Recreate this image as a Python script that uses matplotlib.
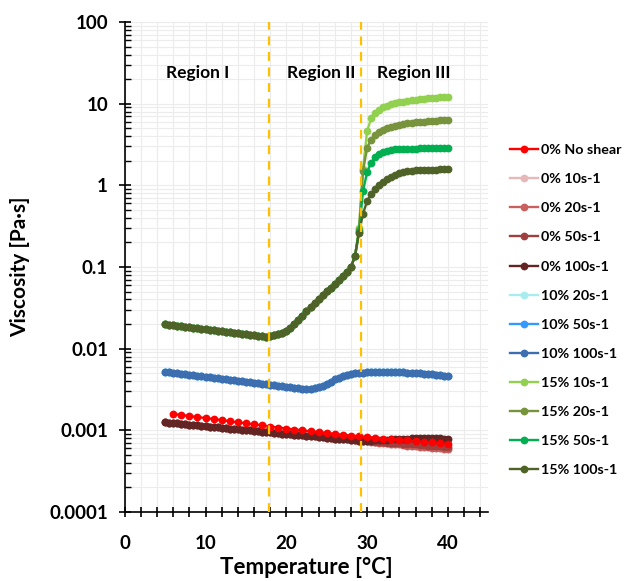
import matplotlib
matplotlib.use("Agg")
import matplotlib.pyplot as plt
from matplotlib.ticker import FixedLocator, LogLocator, NullFormatter

plt.rcParams['font.family'] = ['Lato', 'DejaVu Sans']
plt.rcParams['font.weight'] = 'bold'

# temperature grids
temp_half = [5.0, 5.5, 6.0, 6.5, 7.0, 7.5, 8.0, 8.5, 9.0, 9.5, 10.0, 10.5, 11.0, 11.5,
             12.0, 12.5, 13.0, 13.5, 14.0, 14.5, 15.0, 15.5, 16.0, 16.5, 17.0, 17.5,
             18.0, 18.5, 19.0, 19.5, 20.0, 20.5, 21.0, 21.5, 22.0, 22.5, 23.0, 23.5,
             24.0, 24.5, 25.0, 25.5, 26.0, 26.5, 27.0, 27.5, 28.0, 28.5, 29.0, 29.5,
             30.0, 30.5, 31.0, 31.5, 32.0, 32.5, 33.0, 33.5, 34.0, 34.5, 35.0, 35.5,
             36.0, 36.5, 37.0, 37.5, 38.0, 38.5, 39.0, 39.5, 40.0]
temp_whole = [6, 7, 8, 9, 10, 11, 12, 13, 14, 15, 16, 17, 18, 19, 20, 21, 22, 23,
              24, 25, 26, 27, 28, 29, 30, 31, 32, 33, 34, 35, 36, 37, 38, 39, 40]

# 0% no shear (1 degC steps)
visc_0_noshear = [0.00158, 0.00154, 0.00149, 0.00145, 0.00141, 0.00137, 0.00133, 0.00129,
                  0.00125, 0.00122, 0.00118, 0.00115, 0.00111, 0.00108, 0.00105, 0.00102,
                  0.00100, 0.00097, 0.00095, 0.00093, 0.00090, 0.00088, 0.00086, 0.00084,
                  0.00083, 0.00081, 0.00079, 0.00078, 0.00076, 0.00075, 0.00073, 0.00072,
                  0.00071, 0.00069, 0.00068]

# 0% sheared (10, 20, 50 s-1 lie on top of each other)
visc_0_shear = [0.00125, 0.00124, 0.00122, 0.00121, 0.00120, 0.00118, 0.00117, 0.00116,
                0.00115, 0.00113, 0.00112, 0.00111, 0.00110, 0.00109, 0.00107, 0.00106,
                0.00105, 0.00104, 0.00103, 0.00102, 0.00101, 0.00100, 0.00099, 0.00097,
                0.00096, 0.00095, 0.00094, 0.00093, 0.00092, 0.00091, 0.00090, 0.00089,
                0.00088, 0.00088, 0.00087, 0.00086, 0.00085, 0.00084, 0.00083, 0.00082,
                0.00081, 0.00080, 0.00079, 0.00079, 0.00078, 0.00077, 0.00076, 0.00075,
                0.00074, 0.00074, 0.00073, 0.00072, 0.00071, 0.00070, 0.00070, 0.00069,
                0.00068, 0.00067, 0.00067, 0.00066, 0.00065, 0.00065, 0.00064, 0.00063,
                0.00062, 0.00062, 0.00061, 0.00060, 0.00060, 0.00059, 0.00059]
visc_0_50_tail = [0.00074, 0.00074, 0.00073, 0.00073, 0.00072, 0.00071, 0.00071, 0.00070,
                  0.00070, 0.00069, 0.00069, 0.00068, 0.00068, 0.00067, 0.00067, 0.00066,
                  0.00066, 0.00065, 0.00065, 0.00064, 0.00064, 0.00063, 0.00063]
visc_0_100_tail = [0.00074, 0.00074, 0.00074, 0.00074, 0.00075, 0.00075, 0.00076, 0.00076,
                   0.00077, 0.00077, 0.00078, 0.00079, 0.00079, 0.00080, 0.00080, 0.00081,
                   0.00081, 0.00081, 0.00080, 0.00080, 0.00080, 0.00079, 0.00079]

# 10% (all shear rates nearly identical)
visc_10 = [0.00520, 0.00514, 0.00507, 0.00500, 0.00493, 0.00486, 0.00479, 0.00472,
           0.00466, 0.00459, 0.00453, 0.00446, 0.00440, 0.00434, 0.00428, 0.00422,
           0.00416, 0.00410, 0.00404, 0.00398, 0.00392, 0.00387, 0.00381, 0.00376,
           0.00370, 0.00365, 0.00360, 0.00355, 0.00350, 0.00345, 0.00340, 0.00335,
           0.00330, 0.00326, 0.00322, 0.00320, 0.00321, 0.00326, 0.00335, 0.00350,
           0.00370, 0.00395, 0.00420, 0.00442, 0.00460, 0.00475, 0.00488, 0.00497,
           0.00504, 0.00509, 0.00513, 0.00516, 0.00518, 0.00519, 0.00520, 0.00520,
           0.00519, 0.00517, 0.00515, 0.00512, 0.00509, 0.00505, 0.00501, 0.00497,
           0.00492, 0.00487, 0.00482, 0.00477, 0.00472, 0.00467, 0.00462]

# 15%: shared part 5 - 28.5 degC, then one tail per shear rate (29 - 40 degC)
visc_15_head = [0.0198, 0.0195, 0.0193, 0.0190, 0.0187, 0.0185, 0.0182, 0.0180, 0.0177,
                0.0175, 0.0172, 0.0170, 0.0167, 0.0165, 0.0163, 0.0161, 0.0158, 0.0156,
                0.0154, 0.0152, 0.0150, 0.0148, 0.0146, 0.0144, 0.0142, 0.0140, 0.0141,
                0.0145, 0.0150, 0.0157, 0.0166, 0.0180, 0.0200, 0.0224, 0.0251, 0.0285,
                0.0320, 0.0359, 0.0403, 0.0452, 0.0501, 0.0556, 0.0617, 0.0684, 0.0770,
                0.0870, 0.1000, 0.1350]
visc_15_10_tail = [0.30, 1.6, 4.6, 6.6, 7.7, 8.4, 9.0, 9.4, 9.8, 10.1, 10.4, 10.6, 10.8,
                   11.0, 11.2, 11.3, 11.5, 11.6, 11.8, 11.9, 12.0, 12.1, 12.2]
visc_15_20_tail = [0.28, 1.5, 2.9, 3.6, 4.1, 4.5, 4.8, 5.0, 5.25, 5.4, 5.55, 5.65, 5.75,
                   5.85, 5.95, 6.0, 6.05, 6.1, 6.15, 6.2, 6.25, 6.25, 6.3]
visc_15_50_tail = [0.27, 0.85, 1.45, 1.9, 2.2, 2.4, 2.55, 2.65, 2.7, 2.75, 2.78, 2.8, 2.8,
                   2.82, 2.82, 2.83, 2.83, 2.84, 2.84, 2.84, 2.84, 2.85, 2.85]
visc_15_100_tail = [0.26, 0.45, 0.64, 0.78, 0.90, 1.0, 1.1, 1.2, 1.28, 1.35, 1.41, 1.45,
                    1.48, 1.50, 1.52, 1.53, 1.54, 1.55, 1.56, 1.56, 1.57, 1.57, 1.57]

head_0 = visc_0_shear[:48]
series = [
    ('0% No shear', temp_whole, visc_0_noshear, '#ff0000'),
    ('0% 10s-1', temp_half, visc_0_shear, '#e6b9b8'),
    ('0% 20s-1', temp_half, visc_0_shear, '#c9605d'),
    ('0% 50s-1', temp_half, head_0 + visc_0_50_tail, '#a0403e'),
    ('0% 100s-1', temp_half, head_0 + visc_0_100_tail, '#632523'),
    ('10% 20s-1', temp_half, visc_10, '#a9ecef'),
    ('10% 50s-1', temp_half, visc_10, '#3399ff'),
    ('10% 100s-1', temp_half, visc_10, '#3d6fb0'),
    ('15% 10s-1', temp_half, visc_15_head + visc_15_10_tail, '#92d050'),
    ('15% 20s-1', temp_half, visc_15_head + visc_15_20_tail, '#77933c'),
    ('15% 50s-1', temp_half, visc_15_head + visc_15_50_tail, '#00b050'),
    ('15% 100s-1', temp_half, visc_15_head + visc_15_100_tail, '#4f6228'),
]
region_bounds = [17.9, 29.2]
region_labels = [(9.0, 'Region I'), (24.3, 'Region II'), (35.8, 'Region III')]

fig = plt.figure(figsize=(6.3, 5.81), dpi=100)
ax = fig.add_axes([0.198, 0.119, 0.577, 0.843])

# draw red on top of the sheared 0% curves like the original
order = [1, 2, 3, 4, 0, 5, 6, 7, 8, 9, 10, 11]
handles = {}
for i in order:
    name, t, v, c = series[i]
    h, = ax.plot(t, v, '-o', color=c, lw=1.7, ms=4.6, label=name, zorder=3)
    handles[i] = h

for xb in region_bounds:
    ax.axvline(xb, color='#ffc000', ls=(0, (4, 3)), lw=1.6, zorder=4)

ax.set_yscale('log')
ax.set_xlim(0, 45)
ax.set_ylim(1e-4, 100)
ax.set_yticks([1e-4, 1e-3, 1e-2, 1e-1, 1, 10, 100])
ax.set_yticklabels(['0.0001', '0.001', '0.01', '0.1', '1', '10', '100'])
ax.yaxis.set_minor_locator(LogLocator(base=10, subs=range(2, 10)))
ax.yaxis.set_minor_formatter(NullFormatter())
ax.set_xticks([0, 10, 20, 30, 40])
ax.xaxis.set_minor_locator(FixedLocator([2, 4, 6, 8, 12, 14, 16, 18, 22, 24, 26, 28,
                                         32, 34, 36, 38, 42, 44]))
ax.grid(True, which='both', color='#ececec', lw=0.8, zorder=0)
ax.set_axisbelow(True)
for s in ['top', 'right']:
    ax.spines[s].set_visible(False)
ax.spines['left'].set_linewidth(1.2)
ax.spines['bottom'].set_linewidth(1.2)
ax.tick_params(axis='y', which='major', direction='inout', length=8, width=1.2,
               labelsize=13.5, pad=8)
ax.tick_params(axis='y', which='minor', direction='in', length=4, width=1)
ax.tick_params(axis='x', which='both', direction='inout', length=7, width=1.2,
               labelsize=13.5, pad=13)
for lab in ax.get_xticklabels() + ax.get_yticklabels():
    lab.set_fontweight('bold')

ax.set_xlabel('Temperature [°C]', fontsize=16, fontweight='bold', labelpad=4)
ax.set_ylabel('Viscosity [Pa·s]', fontsize=15, fontweight='bold', labelpad=14)

for x, txt in region_labels:
    ax.text(x, 24, txt, ha='center', va='center', fontsize=12.5, fontweight='bold')

ax.legend([handles[i] for i in range(12)], [s[0] for s in series],
          loc='upper left', bbox_to_anchor=(1.045, 0.762), frameon=False,
          prop={'weight': 'bold', 'size': 10.3}, handlelength=1.9,
          labelspacing=1.19, handletextpad=0.25, borderaxespad=0)

fig.savefig('out.png', dpi=100)
